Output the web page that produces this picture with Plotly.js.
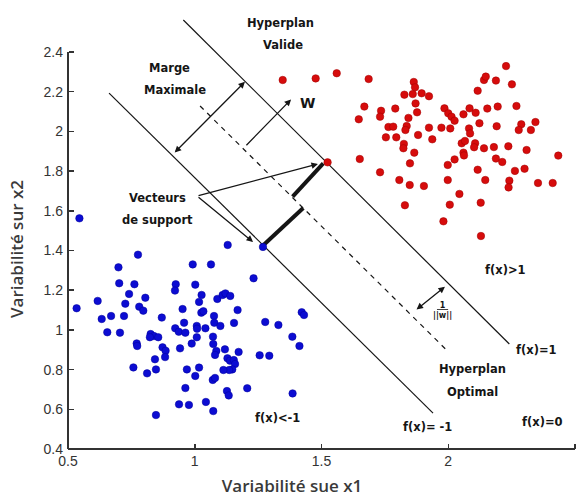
<!DOCTYPE html>
<html><head><meta charset="utf-8">
<script src="https://cdn.plot.ly/plotly-3.0.1.min.js"></script>
<style>html,body{margin:0;padding:0;background:#fff}</style>
</head><body><div id="chart" style="width:584px;height:498px"></div>
<script>
// Class +1 (red) points
const redX = [1.347,1.477,1.560,1.686,2.228,2.141,2.148,2.188,2.251,2.116,1.864,1.869,1.827,1.860,1.895,1.924,1.871,1.669,1.647,1.735,1.731,1.791,1.843,1.877,1.764,1.783,1.836,1.831,1.754,1.795,1.881,1.937,1.924,1.973,2.008,1.985,2.000,2.013,2.025,2.060,2.084,2.108,2.154,2.195,2.269,2.123,2.082,2.086,2.191,2.288,2.278,2.344,2.326,1.825,1.823,1.866,1.849,2.053,2.066,2.106,2.102,2.060,2.062,2.141,2.180,2.237,2.309,2.025,1.998,2.188,2.213,2.434,1.651,1.731,1.807,1.848,1.904,1.998,2.116,2.146,2.263,2.301,2.241,2.238,2.354,2.412,2.044,2.006,1.829,2.128,1.981,2.129,1.524];
const redY = [2.259,2.267,2.293,2.264,2.329,2.259,2.276,2.256,2.237,2.205,2.249,2.222,2.185,2.188,2.192,2.177,2.141,2.125,2.061,2.104,2.074,2.115,2.068,2.096,2.022,2.024,2.027,2.007,1.970,1.970,1.982,1.960,2.019,2.019,2.015,2.116,2.091,2.074,2.054,2.086,2.116,2.094,2.115,2.125,2.128,2.041,2.015,1.990,2.026,2.036,2.007,2.047,2.007,1.937,1.915,1.893,1.839,1.940,1.952,1.940,1.920,1.893,1.879,1.915,1.921,1.925,1.906,1.859,1.831,1.863,1.846,1.878,1.861,1.794,1.755,1.730,1.725,1.755,1.807,1.755,1.801,1.812,1.752,1.718,1.740,1.740,1.685,1.631,1.628,1.641,1.547,1.473,1.844];
// Class -1 (blue) points
const blueX = [1.130,0.534,0.617,0.633,0.670,0.655,0.705,0.699,0.702,0.776,0.762,0.741,0.726,0.721,0.781,0.797,0.805,0.771,0.773,0.758,0.812,0.826,0.839,0.823,0.856,0.870,0.873,0.885,0.883,0.843,0.847,0.847,0.925,0.922,0.923,0.937,0.952,0.958,0.963,0.942,0.992,1.002,1.008,1.009,1.017,1.026,1.034,1.008,0.988,0.969,0.963,0.938,0.977,1.002,1.017,1.042,1.064,1.027,1.076,1.077,1.101,1.072,1.085,1.080,1.073,1.071,1.080,1.044,1.073,1.089,1.110,1.121,1.140,1.155,1.169,1.119,1.129,1.139,1.154,1.159,1.148,1.136,1.173,1.127,1.134,1.113,1.207,1.232,1.278,1.256,1.294,1.330,1.385,1.413,1.386,1.422,1.431,0.545,1.269];
const blueY = [1.428,1.109,1.146,1.055,1.070,0.988,0.986,1.315,1.235,1.379,1.230,1.181,1.132,1.070,1.117,1.097,1.162,0.932,0.919,0.811,0.781,0.979,0.969,0.963,0.963,1.062,0.912,0.895,0.863,0.852,0.801,0.571,1.230,1.198,1.008,0.991,1.105,1.036,0.986,0.907,1.330,1.228,1.020,1.006,1.141,1.087,1.094,0.963,0.931,0.801,0.707,0.625,0.622,0.768,0.810,1.008,1.330,1.176,1.070,1.036,1.020,0.966,0.894,0.874,0.929,0.748,0.758,0.637,0.591,1.156,1.176,1.184,1.171,1.035,1.100,0.902,0.857,0.845,0.848,0.828,0.801,0.798,0.889,0.692,0.670,0.798,0.706,1.260,1.040,0.872,0.870,1.025,0.966,0.919,0.680,1.089,1.075,1.562,1.418];

// Hyperplanes
const planeMinusX = [0.662, 1.940];  const planeMinusY = [2.193, 0.581]; // f(x) = -1
const planePlusX  = [0.955, 2.241];  const planePlusY  = [2.561, 0.929]; // f(x) = 1
const planeOptX   = [1.021, 2.000];  const planeOptY   = [2.128, 0.890]; // f(x) = 0
// Margin segments (thick)
const segUpperX = [1.507, 1.386];   const segUpperY = [1.839, 1.671];
const segLowerX = [1.428, 1.264];   const segLowerY = [1.614, 1.419];

// Arrows: [headX, headY, tailX, tailY]
const arrowMarge  = [1.198, 2.250, 0.915, 1.886];
const arrowW      = [1.380, 2.161, 1.198, 1.923];
const arrowSVred  = [1.486, 1.836, 1.009, 1.675];
const arrowSVblue = [1.230, 1.443, 1.009, 1.675];
const arrowInvW   = [1.987, 1.218, 1.869, 1.097];

// Ticks
const xTickVals = [0.5, 1, 1.5, 2, 2.5];
const xTickText = ['0.5', '1', '1.5', '2', '2.5'];
const yTickVals = [0.4, 0.6, 0.8, 1.0, 1.2, 1.4, 1.6, 1.8, 2.0, 2.2, 2.4];
const yTickText = ['0.4','0.6','0.8','1','1.2','1.4','1.6','1.8','2','2.2','2.4'];

// Labels: [text, x, y]
const labels = [
  ['Hyperplan', 1.340, 2.546],
  ['Valide', 1.348, 2.435],
  ['Marge', 0.902, 2.319],
  ['Maximale', 0.922, 2.209],
  ['Vecteurs', 0.855, 1.664],
  ['de support', 0.855, 1.554],
  ['f(x)&gt;1', 2.224, 1.302],
  ['f(x)=1', 2.350, 0.899],
  ['Hyperplan', 2.094, 0.803],
  ['Optimal', 2.094, 0.687],
  ['f(x)&lt;-1', 1.328, 0.556],
  ['f(x)= -1', 1.920, 0.511],
  ['f(x)=0', 2.370, 0.536]
];

const ink = '#151515';
const lblFont = {family: 'DejaVu Sans, sans-serif', size: 11.5, color: ink, weight: 'bold'};

const traces = [
  {x: planeMinusX, y: planeMinusY, mode: 'lines', line: {color: ink, width: 1.2}, hoverinfo: 'skip'},
  {x: planePlusX, y: planePlusY, mode: 'lines', line: {color: ink, width: 1.2}, hoverinfo: 'skip'},
  {x: planeOptX, y: planeOptY, mode: 'lines', line: {color: ink, width: 1.2, dash: '5px,5px'}, hoverinfo: 'skip'},
  {x: segUpperX, y: segUpperY, mode: 'lines', line: {color: ink, width: 4}, hoverinfo: 'skip'},
  {x: segLowerX, y: segLowerY, mode: 'lines', line: {color: ink, width: 4}, hoverinfo: 'skip'},
  {x: redX, y: redY, mode: 'markers', marker: {color: '#d60c0c', size: 7.5, line: {color: '#a00000', width: 0.5}}, hoverinfo: 'skip'},
  {x: blueX, y: blueY, mode: 'markers', marker: {color: '#0c0cd2', size: 7.5, line: {color: '#00009a', width: 0.5}}, hoverinfo: 'skip'}
];

function arrow(a, both) {
  return {x: a[0], y: a[1], ax: a[2], ay: a[3], xref: 'x', yref: 'y', axref: 'x', ayref: 'y',
    text: '', showarrow: true, arrowhead: 2, arrowsize: 1, arrowwidth: 1.3, arrowcolor: ink,
    arrowside: both ? 'end+start' : 'end', standoff: 0, startstandoff: 0};
}

const annotations = [
  arrow(arrowMarge, true), arrow(arrowW, false), arrow(arrowSVred, false),
  arrow(arrowSVblue, false), arrow(arrowInvW, true)
];
labels.forEach(l => annotations.push({text: l[0], x: l[1], y: l[2], xref: 'x', yref: 'y',
  showarrow: false, font: lblFont, xanchor: 'center', yanchor: 'middle'}));
annotations.push({text: 'W', x: 1.443, y: 2.143, xref: 'x', yref: 'y', showarrow: false,
  font: {family: 'DejaVu Sans, sans-serif', size: 14, color: ink, weight: 'bold'}});
annotations.push({text: '<u>\u00a01\u00a0</u><br>||w||', x: 1.979, y: 1.100, xref: 'x', yref: 'y', showarrow: false,
  font: {family: 'DejaVu Sans, sans-serif', size: 8, color: ink, weight: 'bold'}});

const tickFont = {family: 'Liberation Sans, Arial, sans-serif', size: 14, color: '#333'};
const titleFont = {family: 'Open Sans, sans-serif', size: 17, color: '#3a3a3a', weight: 600};

const layout = {
  width: 584, height: 498, autosize: false,
  margin: {l: 0, r: 0, t: 0, b: 0, pad: 0},
  paper_bgcolor: '#fff', plot_bgcolor: '#fff',
  showlegend: false, hovermode: false,
  xaxis: {range: [0.23176, 2.5355], anchor: 'free', position: 49/498,
    tickvals: xTickVals, ticktext: xTickText, ticks: 'inside', ticklen: 5, tickwidth: 1.5, tickcolor: '#333',
    showgrid: false, zeroline: false, showline: false, tickfont: tickFont, ticklabelstandoff: 2,
    title: {text: 'Variabilité sue x1', font: titleFont, standoff: 12}},
  yaxis: {range: [0.15315, 2.66196], anchor: 'free', position: 68/584,
    tickvals: yTickVals, ticktext: yTickText, ticks: 'inside', ticklen: 5, tickwidth: 1.5, tickcolor: '#333',
    showgrid: false, zeroline: false, showline: false, tickfont: tickFont, ticklabelstandoff: 5,
    title: {text: 'Variabilité sur x2', font: titleFont, standoff: 14}},
  shapes: [
    {type: 'line', xref: 'x', yref: 'y', x0: xTickVals[0], x1: xTickVals[xTickVals.length-1], y0: yTickVals[0], y1: yTickVals[0], line: {color: '#333', width: 2}},
    {type: 'line', xref: 'x', yref: 'y', x0: xTickVals[0], x1: xTickVals[0], y0: yTickVals[0], y1: yTickVals[yTickVals.length-1], line: {color: '#333', width: 2}}
  ],
  annotations: annotations
};

Plotly.newPlot('chart', traces, layout, {staticPlot: true, displayModeBar: false});
</script>
</body></html>
